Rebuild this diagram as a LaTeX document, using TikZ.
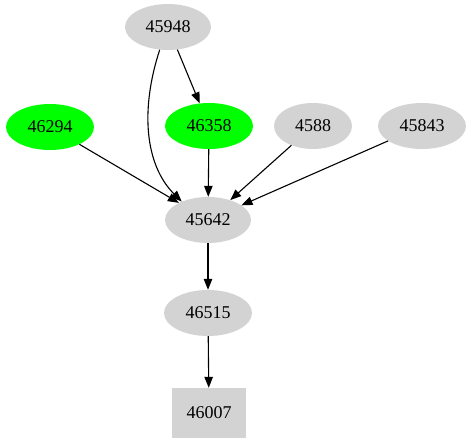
\documentclass[tikz,border=0pt]{standalone}
\usepackage{fontspec}
\setmainfont{Liberation Serif}
\usetikzlibrary{shapes.geometric,arrows.meta}

\definecolor{nodegray}{HTML}{D3D3D3}
\definecolor{nodegreen}{HTML}{00FF00}

\begin{document}
\begin{tikzpicture}[
    x=1pt, y=-1pt,
    job/.style={ellipse, fill=nodegray, inner sep=0pt, minimum width=86pt, minimum height=46pt, font=\fontsize{18}{20}\selectfont},
    hit/.style={job, fill=nodegreen},
    sink/.style={rectangle, fill=nodegray, inner sep=0pt, minimum width=74pt, minimum height=50pt, font=\fontsize{18}{20}\selectfont},
    dep/.style={line width=1.1pt, -{Triangle[length=11pt, width=8.5pt]}},
]

\useasboundingbox (0,0) rectangle (468,443);

% Nodes
\node[job] (n45948) at (168,27) {45948};
\node[hit, minimum width=88pt] (n46294) at (50,127) {46294};
\node[hit, minimum width=88pt] (n46358) at (209,126) {46358};
\node[job, minimum width=78pt] (n4588) at (313,126) {4588};
\node[job, minimum width=88pt] (n45843) at (422,126) {45843};
\node[job] (n45642) at (208,220) {45642};
\node[job, minimum width=88pt] (n46515) at (208,313) {46515};
\node[sink] (n46007) at (209,413) {46007};

% Edges
\draw[dep] (n45948) -- (n46358);
\draw[dep] (n45948.250) .. controls (140,110) and (145,165) .. (n45642.145);
\draw[dep] (n46294) -- (n45642);
\draw[dep] (n46358) -- (n45642);
\draw[dep] (n4588) -- (n45642);
\draw[dep] (n45843) -- (n45642);
\draw[dep] (n45642) -- (n46515);
\draw[dep] (n46515) -- (n46007);

\end{tikzpicture}
\end{document}
